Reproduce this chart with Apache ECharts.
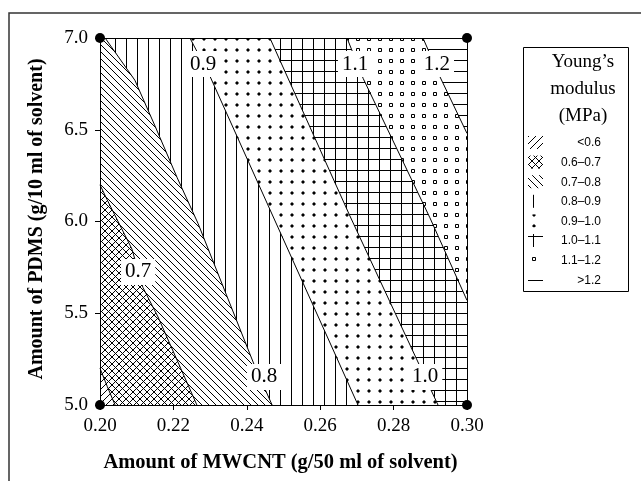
<!DOCTYPE html>
<html><head><meta charset="utf-8">
<script src="https://cdn.jsdelivr.net/npm/echarts@6/dist/echarts.min.js"></script>
<style>html,body{margin:0;padding:0;background:#fff}#c{width:641px;height:481px}</style>
</head><body><div id="c"></div>
<script>
// ---- data ----
const xTicks = [0.20, 0.22, 0.24, 0.26, 0.28, 0.30];
const yTicks = [5.0, 5.5, 6.0, 6.5, 7.0];
const levelNames = ['<0.6', '0.6–0.7', '0.7–0.8', '0.8–0.9', '0.9–1.0', '1.0–1.1', '1.1–1.2', '>1.2'];
// contour lines [MWCNT, PDMS]
const contour06 = [[0.2000, 5.20], [0.2020, 5.10], [0.2041, 5.00]];
const contour07 = [[0.2000, 6.20], [0.2019, 6.12], [0.2087, 5.85], [0.2117, 5.64], [0.2158, 5.48], [0.2264, 5.00]];
const contour08 = [[0.2014, 7.00], [0.2095, 6.77], [0.2150, 6.52], [0.2210, 6.24], [0.2267, 5.99], [0.2422, 5.21], [0.2469, 5.00]];
const contour09 = [[0.2245, 7.00], [0.2300, 6.79], [0.2471, 6.03], [0.2703, 5.00]];
const contour10 = [[0.2463, 7.00], [0.2681, 6.03], [0.2872, 5.21], [0.2921, 5.00]];
const contour11 = [[0.2673, 7.00], [0.2717, 6.78], [0.2899, 6.02], [0.3000, 5.57]];
const contour12 = [[0.2880, 7.00], [0.2926, 6.79], [0.3000, 6.48]];
const contourLabels = ['0.7', '0.8', '0.9', '1.0', '1.1', '1.2'];
const contourLabelPos = [[0.2104, 5.725], [0.2447, 5.153], [0.2281, 6.858], [0.2886, 5.153], [0.2695, 6.858], [0.2918, 6.858]];
const designPoints = [[0.20, 5.0], [0.20, 7.0], [0.30, 5.0], [0.30, 7.0]];

// ---- patterns ----
function tile(w, h, draw) {
  const c = document.createElement('canvas'); c.width = w; c.height = h;
  const g = c.getContext('2d');
  g.fillStyle = '#fff'; g.fillRect(0, 0, w, h);
  g.strokeStyle = '#000'; g.fillStyle = '#000'; g.lineWidth = 1;
  g.beginPath(); draw(g, w, h); g.stroke();
  return { image: c, repeat: 'repeat' };
}
function slash(g, s) { for (const c of [0, s, 2 * s]) { g.moveTo(c + 1, -1); g.lineTo(c - s - 1, s + 1); } }
function backslash(g, s) { for (const c of [-s, 0, s]) { g.moveTo(c - 1, -1); g.lineTo(c + s + 1, s + 1); } }
const patterns = [
  tile(7, 7, (g) => slash(g, 7)),
  tile(7, 7, (g) => { slash(g, 7); backslash(g, 7); }),
  tile(7, 7, (g) => backslash(g, 7)),
  tile(11, 11, (g) => { g.moveTo(5.5, 0); g.lineTo(5.5, 11); }),
  tile(11, 11, (g) => { g.rect(5, 5, 2, 2); g.fill(); }),
  tile(11, 11, (g) => { g.moveTo(5.5, 0); g.lineTo(5.5, 11); g.moveTo(0, 5.5); g.lineTo(11, 5.5); }),
  tile(11, 11, (g) => { g.rect(4.5, 4.5, 3, 3); }),
  tile(11, 11, (g) => { g.moveTo(0, 5.5); g.lineTo(11, 5.5); })
];

const X0 = xTicks[0], X1 = xTicks[xTicks.length - 1], Y0 = yTicks[0], Y1 = yTicks[yTicks.length - 1];
function lowerLeft(line) {
  const pts = line.slice();
  const s = line[0], e = line[line.length - 1];
  if (e[0] >= X1 - 1e-9) pts.push([X1, Y0]);
  pts.push([X0, Y0]);
  if (s[1] >= Y1 - 1e-9) pts.push([X0, Y1]);
  return pts;
}
// painting order: highest level first
const regions = [
  { lvl: 7, pts: [[X0, Y0], [X1, Y0], [X1, Y1], [X0, Y1]] },
  { lvl: 6, pts: lowerLeft(contour12) },
  { lvl: 5, pts: lowerLeft(contour11) },
  { lvl: 4, pts: lowerLeft(contour10) },
  { lvl: 3, pts: lowerLeft(contour09) },
  { lvl: 2, pts: lowerLeft(contour08) },
  { lvl: 1, pts: lowerLeft(contour07) },
  { lvl: 0, pts: lowerLeft(contour06) }
];
const contours = [contour06, contour07, contour08, contour09, contour10, contour11, contour12];

const serif = 'Liberation Serif';
const chart = echarts.init(document.getElementById('c'), null, { renderer: 'canvas' });

const lineSeries = contours.map((c) => ({
  type: 'line', data: c, symbol: 'none', silent: true, z: 3, animation: false,
  lineStyle: { color: '#000', width: 1 }
}));

// legend graphics
const legendItems = [];
levelNames.forEach((n, i) => {
  const y = 143 + i * 19.6;
  legendItems.push({ type: 'rect', shape: { x: 528, y: y - 7, width: 15, height: 13 }, style: { fill: patterns[i] } });
  legendItems.push({ type: 'text', x: 601, y: y, style: { text: n, font: '12px "Liberation Sans"', fill: '#000', align: 'right', verticalAlign: 'middle' } });
});

chart.setOption({
  animation: false,
  grid: { left: 100, top: 38, width: 367, height: 367, show: false },
  xAxis: [{
    type: 'value', min: X0, max: X1, z: 10,
    name: 'Amount of MWCNT (g/50 ml of solvent)', nameLocation: 'middle', nameGap: 47,
    nameTextStyle: { fontFamily: serif, fontWeight: 'bold', fontSize: 20.5, color: '#000', padding: [0, 6, 0, 0] },
    axisLine: { lineStyle: { color: '#000', width: 1 } },
    axisTick: { show: true, length: 5, lineStyle: { color: '#000' }, customValues: xTicks },
    axisLabel: { customValues: xTicks, formatter: (v) => v.toFixed(2), fontFamily: serif, fontSize: 19, color: '#000', margin: 12 },
    splitLine: { show: false }
  }, {
    type: 'value', min: X0, max: X1, position: 'top', z: 10,
    axisLine: { show: true, lineStyle: { color: '#000', width: 1 } },
    axisTick: { show: false }, axisLabel: { show: false }, splitLine: { show: false }
  }],
  yAxis: [{
    type: 'value', min: Y0, max: Y1, z: 10,
    name: 'Amount of PDMS (g/10 ml of solvent)', nameLocation: 'middle', nameGap: 53, nameRotate: 90,
    nameTextStyle: { fontFamily: serif, fontWeight: 'bold', fontSize: 20, color: '#000', padding: [0, 0, 0, 5] },
    axisLine: { show: true, lineStyle: { color: '#000', width: 1 } },
    axisTick: { show: true, length: 5, lineStyle: { color: '#000' }, customValues: yTicks },
    axisLabel: { customValues: yTicks, formatter: (v) => v.toFixed(1), fontFamily: serif, fontSize: 19, color: '#000', margin: 12 },
    splitLine: { show: false }
  }, {
    type: 'value', min: Y0, max: Y1, position: 'right', z: 10,
    axisLine: { show: true, lineStyle: { color: '#000', width: 1 } },
    axisTick: { show: false }, axisLabel: { show: false }, splitLine: { show: false }
  }],
  graphic: [
    { type: 'polyline', shape: { points: [[9, 481], [9, 13], [641, 13]] }, style: { stroke: '#333', lineWidth: 1.5, fill: null } },
    { type: 'rect', shape: { x: 523.5, y: 47.5, width: 105, height: 244 }, style: { fill: '#fff', stroke: '#000', lineWidth: 1 } },
    { type: 'text', x: 583, y: 62, style: { text: 'Young’s', font: '19px "Liberation Serif"', fill: '#000', align: 'center', verticalAlign: 'middle' } },
    { type: 'text', x: 583, y: 89, style: { text: 'modulus', font: '19px "Liberation Serif"', fill: '#000', align: 'center', verticalAlign: 'middle' } },
    { type: 'text', x: 583, y: 116, style: { text: '(MPa)', font: '19px "Liberation Serif"', fill: '#000', align: 'center', verticalAlign: 'middle' } }
  ].concat(legendItems),
  series: [{
    type: 'custom', z: 1, silent: true,
    data: regions.map((r, i) => i),
    renderItem: (params, api) => {
      const r = regions[api.value(0)];
      return { type: 'polygon', shape: { points: r.pts.map((p) => api.coord(p)) }, style: { fill: patterns[r.lvl], stroke: null } };
    },
    encode: { x: -1, y: -1 }
  }].concat(lineSeries).concat([{
    type: 'scatter', z: 5, silent: true, symbolSize: 0,
    itemStyle: { opacity: 1 },
    data: contourLabelPos.map((p, i) => ({ value: p, name: contourLabels[i] })),
    label: { show: true, opacity: 1, position: 'inside', formatter: (p) => p.name, fontFamily: serif, fontSize: 21, color: '#000', backgroundColor: '#fff', padding: [3, 4, 2, 4] }
  }, {
    type: 'scatter', z: 20, silent: true, symbol: 'circle', symbolSize: 10,
    data: designPoints, itemStyle: { color: '#000', opacity: 1 }
  }])
});
</script></body></html>
